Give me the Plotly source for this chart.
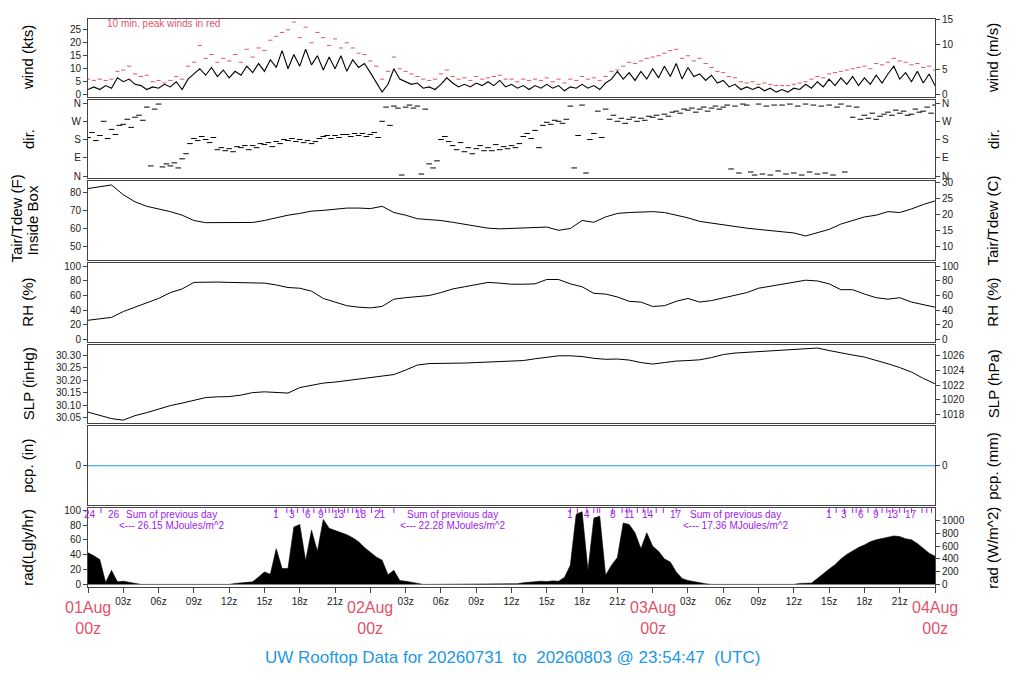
import plotly.graph_objects as go

# time axis: hours since 01Aug 00z
hours = list(range(73))
half_hours = [i * 0.5 for i in range(145)]
third_hours = [i / 3 for i in range(217)]

# wind speed (kts), every 30 min
wind_kts = [
    2.0, 3.0, 2.0, 3.5, 2.5, 6.5, 5.0, 6.0, 4.0, 3.5, 2.0, 3.0,
    2.5, 4.0, 3.0, 5.0, 2.0, 6.0, 8.0, 10.0, 7.5, 10.5, 7.0, 9.5,
    6.5, 9.0, 7.5, 11.0, 8.5, 12.0, 9.0, 13.5, 10.5, 17.0, 10.0, 15.5,
    11.0, 17.5, 11.5, 15.0, 9.5, 14.5, 10.0, 15.0, 9.0, 13.5, 10.5, 12.0,
    8.5, 5.0, 1.0, 4.0, 10.0, 6.0, 5.0, 4.0, 4.5, 2.5, 3.0, 2.0,
    4.0, 6.5, 4.5, 3.0, 4.0, 3.0, 4.5, 3.5, 5.0, 3.5, 5.5, 3.0,
    4.0, 2.5, 3.5, 2.0, 3.5, 2.5, 4.0, 2.5, 3.5, 1.5, 3.0, 2.5,
    4.0, 2.5, 3.5, 2.0, 4.5, 6.0, 9.0, 6.0, 8.5, 5.5, 9.0, 6.0,
    10.0, 6.5, 11.0, 7.0, 12.0, 6.0, 10.5, 7.0, 8.0, 5.5, 7.5, 4.5,
    5.5, 3.0, 4.0, 2.0, 3.0, 2.0, 3.0, 1.5, 2.5, 1.0, 2.0, 1.0,
    2.5, 2.0, 4.0, 2.5, 5.0, 3.0, 6.0, 3.5, 6.5, 4.0, 7.0, 3.5,
    6.5, 4.0, 7.5, 4.5, 8.0, 11.0, 6.0, 8.5, 5.0, 9.0, 4.5, 8.0,
    3.5,
]

# 10 min peak winds (kts), every 30 min
peak_kts = [
    6, 5.5, 6, 5.5, 6, 9, 9.5, 11, 8, 7, 7.5, 5,
    5.5, 4.5, 5.5, 7, 6, 11, 12.5, 19, 14, 15.5, 12.5, 14,
    13, 15.5, 12.5, 17.5, 14.5, 18, 17, 21, 22.5, 24, 25, 28,
    22, 26, 20, 24, 22, 19, 21.5, 18, 20, 18, 16, 15.5,
    13, 11, 6, 9, 14.5, 10, 9, 8, 7, 6, 5.5, 6,
    8, 9.5, 7, 6, 6.5, 5.5, 7, 6, 6.5, 7, 7.5, 6,
    6, 5, 6, 5.5, 6, 5.5, 6.5, 5, 6, 4.5, 6, 5.5,
    7, 6, 6.5, 5.5, 7, 9, 9.5, 11, 12.5, 12, 13, 14,
    14.5, 15, 16, 17, 17.5, 14, 15, 13, 14, 12, 10.5, 9,
    8.5, 7, 6.5, 5, 4.5, 5, 4, 4.5, 4, 3.5, 3.5, 3.5,
    4, 4.5, 5, 6, 7, 6.5, 8, 8.5, 9, 9.5, 10, 10.5,
    11, 10, 12, 11.5, 12.5, 14, 13, 12.5, 11.5, 12, 10.5, 11,
    9.5,
]

# wind direction (deg), every 20 min
wind_dir = [
    190, 215, 175, 200, 270, 185, 230, 205, 250, 255, 280, 240,
    290, 300, 275, 340, 50, 330, 355, 45, 60, 50, 65, 40,
    85, 110, 160, 185, 175, 195, 180, 165, 190, 130, 140, 125,
    135, 120, 145, 140, 150, 130, 150, 140, 160, 155, 165, 145,
    170, 160, 180, 175, 185, 170, 180, 165, 175, 160, 170, 185,
    195, 200, 185, 200, 190, 205, 205, 195, 210, 200, 210, 195,
    205, 215, 190, 270, 340, 250, 345, 335, 5, 340, 350, 335,
    345, 10, 330, 60, 40, 75, 180, 195, 170, 150, 130, 165,
    120, 140, 110, 135, 150, 125, 140, 125, 155, 130, 145, 135,
    150, 140, 160, 195, 210, 185, 225, 140, 250, 265, 255, 275,
    270, 260, 280, 345, 40, 200, 350, 15, 180, 210, 320, 190,
    330, 280, 300, 270, 285, 260, 280, 290, 270, 285, 275, 295,
    290, 300, 280, 305, 295, 315, 320, 310, 330, 325, 335, 315,
    330, 340, 320, 335, 345, 330, 340, 350, 35, 345, 15, 355,
    350, 20, 5, 355, 10, 345, 5, 350, 25, 350, 10, 355,
    15, 345, 5, 355, 20, 350, 10, 345, 15, 350, 5, 340,
    355, 20, 345, 290, 340, 280, 300, 285, 310, 280, 295, 305,
    315, 300, 325, 310, 320, 300, 305, 330, 315, 320, 340, 310,
    350,
]

# inside-box air temperature (F), hourly
tair_f = [
    82.5, 83.5, 84.5, 79, 75, 72.5, 71, 69.5, 67.5, 64.5, 63.3, 63.3,
    63.2, 63.2, 63.4, 64.5, 66, 67.5, 68.5, 69.8, 70.2, 70.8, 71.5, 71.5,
    71.2, 72.5, 69, 67.5, 65.5, 65, 64.5, 63.5, 62.5, 61.5, 60.2, 59.8,
    60, 60, 60.5, 60.8, 59, 60, 64.5, 63.5, 66.5, 68.5, 69, 69.3,
    69.5, 69, 67.5, 66, 64, 63, 62, 61, 60.2, 59.5, 58.8, 58.2,
    57.5, 55.8, 57.5, 59.5, 62.5, 64.5, 66.5, 67.5, 69.5, 69, 71, 73.5,
    75.5,
]

# relative humidity (%), hourly
rh_pct = [
    26, 28, 30, 38, 44, 49, 56, 64, 69, 78, 78.5, 78.5,
    78, 78, 78, 77, 74.5, 71, 70, 66, 56, 51, 46, 44,
    43, 45, 55, 57, 59, 60, 64, 69, 72, 75, 78, 77,
    75.5, 75.5, 76, 82, 82, 76, 72, 63, 62, 58, 52, 51,
    45, 46, 52, 56, 51, 53, 57, 60, 64, 70, 73, 75,
    78, 81, 80, 76, 68, 68, 62, 57, 55, 57, 51, 48,
    44,
]

# sea level pressure (inHg), hourly
slp_inhg = [
    30.072, 30.060, 30.046, 30.040, 30.058, 30.070, 30.085, 30.098, 30.108, 30.120, 30.130, 30.133,
    30.134, 30.140, 30.150, 30.153, 30.152, 30.148, 30.170, 30.180, 30.188, 30.192, 30.198, 30.203,
    30.208, 30.213, 30.222, 30.240, 30.260, 30.266, 30.266, 30.267, 30.268, 30.270, 30.272, 30.273,
    30.275, 30.278, 30.285, 30.292, 30.297, 30.297, 30.294, 30.287, 30.283, 30.284, 30.280, 30.270,
    30.264, 30.270, 30.276, 30.278, 30.281, 30.290, 30.302, 30.308, 30.311, 30.314, 30.318, 30.322,
    30.325, 30.327, 30.328, 30.318, 30.308, 30.300, 30.292, 30.280, 30.265, 30.250, 30.232, 30.207,
    30.185,
]

# precipitation (in), hourly
pcp_in = [
    0, 0, 0, 0, 0, 0, 0, 0, 0, 0, 0, 0,
    0, 0, 0, 0, 0, 0, 0, 0, 0, 0, 0, 0,
    0, 0, 0, 0, 0, 0, 0, 0, 0, 0, 0, 0,
    0, 0, 0, 0, 0, 0, 0, 0, 0, 0, 0, 0,
    0, 0, 0, 0, 0, 0, 0, 0, 0, 0, 0, 0,
    0, 0, 0, 0, 0, 0, 0, 0, 0, 0, 0, 0,
    0,
]

# solar radiation (W/m^2), every 30 min
rad_wm2 = [
    495, 450, 390, 30, 220, 40, 50, 30, 15, 0, 0, 0,
    0, 0, 0, 0, 0, 0, 0, 0, 0, 0, 0, 0,
    0, 15, 20, 25, 40, 116, 196, 160, 558, 248, 250, 900,
    940, 370, 850, 520, 1020, 880, 850, 820, 780, 730, 670, 580,
    500, 430, 380, 150, 220, 60, 50, 30, 10, 0, 0, 0,
    0, 0, 0, 0, 0, 0, 0, 0, 0, 0, 0, 0,
    0, 10, 25, 35, 45, 50, 45, 55, 50, 110, 300, 1100,
    1140, 220, 1040, 1070, 143, 300, 420, 964, 940, 810, 560, 810,
    600, 520, 400, 350, 195, 92, 60, 40, 30, 10, 0, 0,
    0, 0, 0, 0, 0, 0, 0, 0, 0, 0, 0, 0,
    0, 15, 15, 20, 92, 170, 240, 310, 400, 470, 530, 580,
    620, 670, 700, 725, 740, 760, 750, 715, 700, 640, 560, 490,
    440,
]

# hour labels across the top of the radiation panel
rad_lbl_h = [0.2, 2.2, 16.0, 17.3, 18.7, 19.8, 21.3, 23.2, 24.8,
             41.0, 42.4, 44.6, 46.0, 47.6, 50.0,
             63.0, 64.3, 65.7, 67.0, 68.4, 70.0]
rad_lbl_txt = ["24", "26", "1", "3", "6", "9", "13", "18", "21",
               "1", "4", "8", "11", "14", "17",
               "1", "3", "6", "9", "13", "17"]
rad_tick_h = [1.1, 16.9, 17.8, 18.3, 19.2, 20.2, 20.5, 20.8, 21.8, 22.1, 22.5, 22.8, 24.1, 26.0,
              41.6, 43.0, 43.3, 43.5, 45.4, 45.8, 46.7, 47.2, 48.3, 48.9,
              63.6, 65.0, 65.3, 66.3, 67.5, 67.9, 69.0, 69.4, 70.9, 71.3, 71.7]
sum_h = [7.1, 31.0, 55.0]
sum_mj = ["26.15", "22.28", "17.36"]

day_h = [0, 24, 48, 72]
day_txt = ["01Aug", "02Aug", "03Aug", "04Aug"]

W, H = 1024, 700
OFF = 8  # page margin around the plot div
RED = "#DF536B"
BLUE = "#2297E6"
PURPLE = "#A020F0"
FONT = "Liberation Sans, Arial, sans-serif"
FRAME = "#444444"


def fx(p):
    return (p - OFF) / W


def fy(p):
    return 1 - (p - OFF) / H


panels = [(14, 93), (96, 175), (178, 258), (261, 341), (344, 423), (426, 506), (509, 589)]

# left / right axis ranges
KTS = [-0.9, 29.2]
DIR = [-10, 375]
TF = [42.2, 86.7]
RH = [-4.1, 104.5]
SLP = [30.0275, 30.3395]
PCP = [-1, 1]
LGLY = [-4, 102.7]

left_ranges = [KTS, DIR, TF, RH, SLP, PCP, LGLY]
right_ranges = [
    [v * 0.514444 for v in KTS],
    DIR,
    [(v - 32) / 1.8 for v in TF],
    RH,
    [v * 33.8639 for v in SLP],
    [v * 25.4 for v in PCP],
    [v * 11.63 for v in LGLY],
]

dir_vals = [0, 90, 180, 270, 360]
dir_txt = ["N", "E", "S", "W", "N"]
left_ticks = [
    dict(tickvals=[0, 5, 10, 15, 20, 25]),
    dict(tickvals=dir_vals, ticktext=dir_txt),
    dict(tickvals=[50, 60, 70, 80]),
    dict(tickvals=[0, 20, 40, 60, 80, 100]),
    dict(tickvals=[30.05, 30.10, 30.15, 30.20, 30.25, 30.30], tickformat=".2f"),
    dict(tickvals=[0]),
    dict(tickvals=[0, 20, 40, 60, 80, 100]),
]
right_ticks = [
    dict(tickvals=[0, 5, 10, 15]),
    dict(tickvals=dir_vals, ticktext=dir_txt),
    dict(tickvals=[10, 15, 20, 25, 30]),
    dict(tickvals=[0, 20, 40, 60, 80, 100]),
    dict(tickvals=[1018, 1020, 1022, 1024, 1026]),
    dict(tickvals=[0]),
    dict(tickvals=[0, 200, 400, 600, 800, 1000]),
]

left_titles = ["wind (kts)", "dir.", None, "RH (%)", "SLP (inHg)", "pcp. (in)", "rad(Lgly/hr)"]
right_titles = ["wind (m/s)", "dir.", "Tair/Tdew (C)", "RH (%)", "SLP (hPa)", "pcp. (mm)", "rad (W/m^2)"]


def xname(n):
    return "x" if n == 1 else "x%d" % n


def yname(n):
    return "y" if n == 1 else "y%d" % n


fig = go.Figure()

# wind
fig.add_trace(go.Scatter(x=half_hours, y=wind_kts, mode="lines",
                         line=dict(color="black", width=1.1), xaxis="x", yaxis="y"))
fig.add_trace(go.Scatter(x=half_hours, y=peak_kts, mode="markers",
                         marker=dict(symbol="line-ew", size=3, line=dict(color=RED, width=1)),
                         xaxis="x", yaxis="y"))
# direction
fig.add_trace(go.Scatter(x=third_hours, y=wind_dir, mode="markers",
                         marker=dict(symbol="line-ew", size=4, line=dict(color="black", width=1)),
                         xaxis="x2", yaxis="y2"))
# temperature
fig.add_trace(go.Scatter(x=hours, y=tair_f, mode="lines",
                         line=dict(color="black", width=1), xaxis="x3", yaxis="y3"))
# RH
fig.add_trace(go.Scatter(x=hours, y=rh_pct, mode="lines",
                         line=dict(color="black", width=1), xaxis="x4", yaxis="y4"))
# SLP
fig.add_trace(go.Scatter(x=hours, y=slp_inhg, mode="lines",
                         line=dict(color="black", width=1), xaxis="x5", yaxis="y5"))
# precip
fig.add_trace(go.Scatter(x=hours, y=pcp_in, mode="lines",
                         line=dict(color=BLUE, width=1), xaxis="x6", yaxis="y6"))
# radiation, converted to Lgly/hr for the left axis
rad_lgly = [w / 11.63 for w in rad_wm2]
fig.add_trace(go.Scatter(x=half_hours, y=rad_lgly, mode="lines", fill="tozeroy",
                         fillcolor="black", line=dict(color="black", width=0.6),
                         xaxis="x7", yaxis="y7"))
rad_top = LGLY[1] - 2.5
tick_pos = rad_tick_h + rad_lbl_h[2:]
fig.add_trace(go.Scatter(x=tick_pos, y=[rad_top for _ in tick_pos],
                         mode="markers",
                         marker=dict(symbol="line-ns", size=4, line=dict(color=PURPLE, width=1)),
                         xaxis="x7", yaxis="y7"))
# dummy traces so every right axis is drawn
for n in range(1, 8):
    fig.add_trace(go.Scatter(x=[None], y=[None], xaxis=xname(n), yaxis="y%d" % (n + 7)))

layout = dict(width=W, height=H, margin=dict(l=0, r=0, t=0, b=0),
              paper_bgcolor="white", plot_bgcolor="white", showlegend=False,
              font=dict(family=FONT, size=10, color="#222"))

xticks = list(range(0, 73, 3))
xtext = ["" if h % 24 == 0 else "%02dz" % (h % 24) for h in xticks]

for i, (top, bot) in enumerate(panels):
    n = i + 1
    xk = "xaxis" if n == 1 else "xaxis%d" % n
    yk = "yaxis" if n == 1 else "yaxis%d" % n
    xa = dict(domain=[fx(88), fx(935)], range=[0, 72], anchor=yname(n),
              showgrid=False, zeroline=False, showline=True, mirror=True,
              linecolor=FRAME, linewidth=1, showticklabels=False, ticks="")
    if n == 7:
        xa.update(ticks="outside", ticklen=5, tickcolor=FRAME, tickvals=xticks,
                  ticktext=xtext, showticklabels=True, tickfont=dict(size=10))
    layout[xk] = xa
    dom = [fy(bot), fy(top)]
    ya = dict(domain=dom, range=left_ranges[i], anchor=xname(n),
              showgrid=False, zeroline=False, showline=True, mirror=True,
              linecolor=FRAME, linewidth=1, ticks="outside", ticklen=4, tickcolor=FRAME,
              tickfont=dict(size=10))
    ya.update(left_ticks[i])
    layout[yk] = ya
    ry = dict(domain=dom, range=right_ranges[i], overlaying=yname(n), side="right",
              anchor=xname(n), showgrid=False, zeroline=False,
              showline=False, ticks="outside", ticklen=4, tickcolor=FRAME,
              tickfont=dict(size=10))
    ry.update(right_ticks[i])
    layout["yaxis%d" % (n + 7)] = ry

fig.update_layout(**layout)


def label(text, x, y, size, color, angle=0, xref="paper", xanchor="center", yanchor="middle"):
    return dict(text=text, x=x, y=y, xref=xref, yref="paper", textangle=angle,
                xanchor=xanchor, yanchor=yanchor, showarrow=False,
                font=dict(size=size, color=color))


ann = []
for i, (top, bot) in enumerate(panels):
    mid = fy((top + bot) / 2)
    if left_titles[i]:
        ann.append(label(left_titles[i], fx(28), mid, 15, "black", -90))
    ann.append(label(right_titles[i], fx(993), mid, 15, "black", -90))
ann.append(label("Tair/Tdew (F)", fx(17), fy(216), 15, "black", -90))
ann.append(label("Inside Box", fx(33), fy(218), 15, "black", -90))

ann.append(label("10 min. peak winds in red", fx(105), fy(19), 10, RED, xanchor="left"))

for h, t in zip(rad_lbl_h, rad_lbl_txt):
    ann.append(label(t, h, fy(515), 10, PURPLE, xref="x7"))
for h, mj in zip(sum_h, sum_mj):
    ann.append(label("Sum of previous day", h, fy(515), 10, PURPLE, xref="x7"))
    ann.append(label("<--- %s MJoules/m^2" % mj, h, fy(526), 10, PURPLE, xref="x7"))

for h, t in zip(day_h, day_txt):
    ann.append(label(t + "<br>00z", h, fy(599), 16, RED, xref="x7", yanchor="top"))

ann.append(label("UW Rooftop Data for 20260731\u00a0\u00a0to\u00a0\u00a020260803 @ 23:54:47\u00a0\u00a0(UTC)",
                 fx(512), fy(660), 17, BLUE))

fig.update_layout(annotations=ann)

fig.write_html("out.html")
